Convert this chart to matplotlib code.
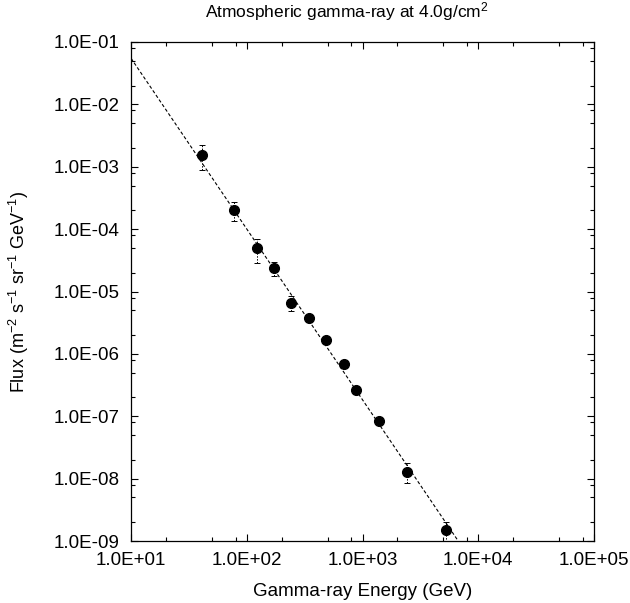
"""
    Atmospheric gamma-ray flux at 4.0 g/cm^2 (log-log, with power-law fit).
"""

# 3rd party modules
import numpy as np
import matplotlib
matplotlib.use('Agg')
from matplotlib import pyplot as plt
from matplotlib import ticker

# data
energy = [41.2, 76.9, 122, 173, 243, 345, 488, 689, 887, 1384, 2438, 5260]
flux = [1.55e-3, 2.03e-4, 4.9e-5, 2.36e-5, 6.6e-6, 3.73e-6,
        1.67e-6, 6.9e-7, 2.65e-7, 8.4e-8, 1.3e-8, 1.5e-9]
flux_err = [6.5e-4, 7.0e-5, 2.0e-5, 6.0e-6, 1.8e-6, 5.0e-7,
            2.0e-7, 8.0e-8, 4.0e-8, 9.0e-9, 4.5e-9, 5.5e-10]

# power-law fit line (two end points of the straight line in log-log)
fit_energy = [10.0, 6714.0]
fit_flux = [5.5e-2, 1.0e-9]

x_ticks = [1e1, 1e2, 1e3, 1e4, 1e5]
y_ticks = [1e-9, 1e-8, 1e-7, 1e-6, 1e-5, 1e-4, 1e-3, 1e-2, 1e-1]


def sci_label(v, _):
    """1.0E+01 style tick label."""
    exp = int(np.round(np.log10(v)))
    return '1.0E%+03d' % exp


def main():
    plt.rcParams['font.family'] = ['Liberation Sans', 'DejaVu Sans']
    plt.rcParams['mathtext.default'] = 'regular'

    fig = plt.figure(figsize=(6.30, 6.03), dpi=100)
    ax = fig.add_axes([131 / 630, 1 - 541 / 603, 463 / 630, 499 / 603])

    # fit line
    ax.plot(fit_energy, fit_flux, color='black', lw=0.8,
            linestyle=(0, (3, 2)), zorder=2)

    # data points with error bars
    eb = ax.errorbar(energy, flux, yerr=flux_err, fmt='o', color='black',
                     ms=7, ecolor='black', elinewidth=0.7, capsize=2.5,
                     capthick=0.7, zorder=3)
    eb[2][0].set_linestyle((0, (1.5, 1.5)))

    ax.set_xscale('log')
    ax.set_yscale('log')
    ax.set_xlim(1e1, 1e5)
    ax.set_ylim(1e-9, 1e-1)

    ax.xaxis.set_major_locator(ticker.FixedLocator(x_ticks))
    ax.yaxis.set_major_locator(ticker.FixedLocator(y_ticks))
    ax.xaxis.set_minor_locator(ticker.LogLocator(base=10, subs=[2, 5, 8]))
    ax.yaxis.set_minor_locator(ticker.LogLocator(base=10, subs=[2, 5, 8]))
    ax.xaxis.set_minor_formatter(ticker.NullFormatter())
    ax.yaxis.set_minor_formatter(ticker.NullFormatter())
    ax.xaxis.set_major_formatter(ticker.FuncFormatter(sci_label))
    ax.yaxis.set_major_formatter(ticker.FuncFormatter(sci_label))

    ax.tick_params(which='both', direction='in', top=True, right=True,
                   width=0.8, labelsize=13.5)
    ax.tick_params(which='major', length=5)
    ax.tick_params(axis='x', which='major', pad=8)
    ax.tick_params(axis='y', which='major', pad=8)
    ax.tick_params(which='minor', length=3)
    for sp in ax.spines.values():
        sp.set_linewidth(0.9)

    ax.set_xlabel('Gamma-ray Energy (GeV)', fontsize=13.5)
    ax.xaxis.set_label_coords(0.5, -(591 - 541) / 499)
    ax.set_ylabel('Flux (m$^{-2}$ s$^{-1}$ sr$^{-1}$ GeV$^{-1}$)',
                  fontsize=13)
    ax.yaxis.set_label_coords(-(131 - 19) / 463, 0.5)
    ax.xaxis.label.set_va('center')
    ax.yaxis.label.set_va('center')
    fig.text(347 / 630, 1 - 12 / 603, 'Atmospheric gamma-ray at 4.0g/cm$^{2}$',
             ha='center', va='center', fontsize=12.5)

    fig.savefig('out.png', dpi=100)


if __name__ == '__main__':
    main()
